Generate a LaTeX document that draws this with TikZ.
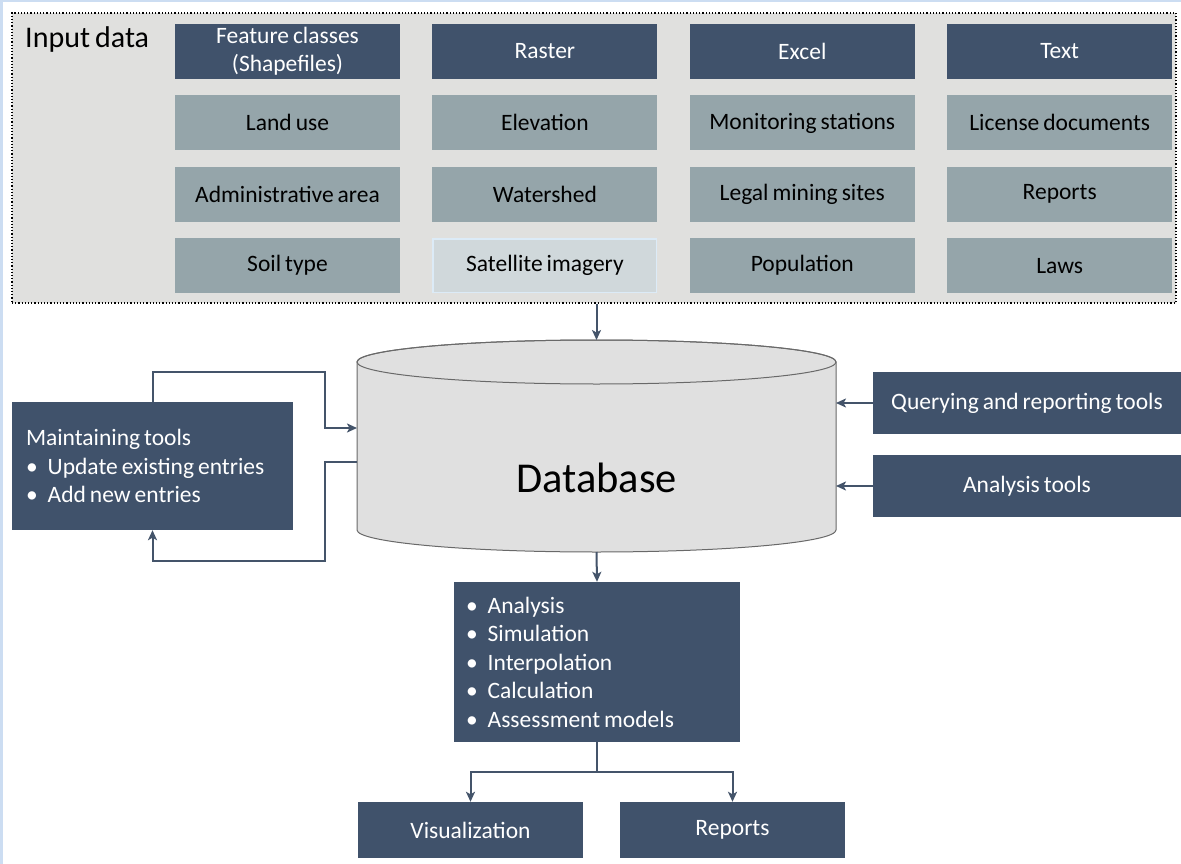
\documentclass[tikz,border=0pt]{standalone}
\usepackage{fontspec}
\setmainfont{Carlito}[WordSpace=0.75]
\usepackage{tikz}
\usetikzlibrary{positioning, arrows.meta}
\definecolor{darkcell}{RGB}{64,82,107}
\definecolor{graycell}{RGB}{149,165,170}
\definecolor{palecell}{RGB}{208,216,219}
\definecolor{paleedge}{RGB}{220,235,247}
\definecolor{inputbg}{RGB}{224,224,222}
\definecolor{dbfill}{RGB}{224,224,224}
\definecolor{dbedge}{RGB}{105,105,105}
\definecolor{linkcol}{RGB}{68,84,106}
\definecolor{framecol}{RGB}{204,221,242}
\tikzset{
cell/.style={minimum width=225pt, minimum height=55pt, inner sep=0pt, align=center, font=\fontsize{23.5}{28}\selectfont}, % every box of the input grid
typecell/.style={cell, fill=darkcell, text=white}, % first row: data types
datacell/.style={cell, fill=graycell, text=black}, % the data sets
toolbox/.style={fill=darkcell, text=white, inner sep=0pt, font=\fontsize{23.5}{28.5}\selectfont}, % dark boxes below
link/.style={->, >={Stealth[length=10pt, width=9pt, inset=2.5pt]}, draw=linkcol, line width=2pt}, % connectors
}
\newcommand{\itm}{\textbullet\hspace{10pt}}

\begin{document}
\begin{tikzpicture}[x=1pt, y=-1pt, node distance=16pt and 32pt]
    \useasboundingbox (0,0) rectangle (1181,864);
    \fill[white] (0,0) rectangle (1181,864);
    \draw[framecol, line width=5pt] (0,864) -- (0,0) -- (1181,0);

    % input data
    \node[draw=black, dotted, line width=1.2pt, fill=inputbg, minimum width=1164pt, minimum height=290pt, inner sep=0pt] (input) at (594,158) {};
    \node[anchor=base west, inner sep=0pt, font=\fontsize{30}{32}\selectfont] (title) at (25,48) {Input data};

    \node[typecell] (fc) at (287.5,51.5) {Feature classes\\(Shapefiles)};
    \node[typecell, right=of fc] (raster) {Raster};
    \node[typecell, right=of raster] (excel) {Excel};
    \node[typecell, right=of excel] (text) {Text};

    \node[datacell, below=of fc] (landuse) {Land use};
    \node[datacell, below=of raster] (elev) {Elevation};
    \node[datacell, below=of excel] (monitor) {Monitoring stations};
    \node[datacell, below=of text] (license) {License documents};

    \node[datacell, below=of landuse] (admin) {Administrative area};
    \node[datacell, below=of elev] (watershed) {Watershed};
    \node[datacell, below=of monitor] (mining) {Legal mining sites};
    \node[datacell, below=of license] (reports) {Reports};

    \node[datacell, below=of admin] (soil) {Soil type};
    \node[cell, fill=palecell, draw=paleedge, line width=1.5pt, minimum width=223.5pt, minimum height=53.5pt, below=of watershed] (sat) {Satellite imagery};
    \node[datacell, below=of mining] (popul) {Population};
    \node[datacell, below=of reports] (laws) {Laws};

    % database
    \draw[dbedge, line width=1pt, fill=dbfill] (357,362) -- (357,530) arc (180:360:239.5pt and 22pt) -- (836,362) arc (0:180:239.5pt and 22pt) -- cycle;
    \draw[dbedge, line width=1pt] (596.5,362) ellipse [x radius=239.5pt, y radius=22pt];
    \node[font=\fontsize{42.5}{46}\selectfont] (db) at (596.5,478) {Database};
    \coordinate (dbtop) at (596.5,340);
    \coordinate (dbbot) at (596.5,552);
    \coordinate (dbin) at (357,428);
    \coordinate (dbout) at (357,462);
    \coordinate (dbright) at (836,446);

    % tools
    \node[toolbox, minimum width=281pt, minimum height=128pt, text width=253pt, align=left] (maintain) at (152.5,466) {\spaceskip=0pt Maintaining tools\\\itm Update existing entries\\\itm Add new entries};
    \node[toolbox, minimum width=308pt, minimum height=62pt, align=center] (query) at (1027,403) {Querying and reporting tools};
    \node[toolbox, minimum width=308pt, minimum height=62pt, align=center] (analysis) at (1027,486) {Analysis tools};
    \node[toolbox, minimum width=286pt, minimum height=160pt, text width=262pt, align=left] (methods) at (597,662) {\spaceskip=0pt \itm Analysis\\\itm Simulation\\\itm Interpolation\\\itm Calculation\\\itm Assessment models};
    \node[toolbox, minimum width=225pt, minimum height=56pt, align=center] (vis) at (470.5,830) {Visualization};
    \node[toolbox, minimum width=225pt, minimum height=56pt, align=center] (out) at (732.5,830) {Reports};

    \coordinate (loopa) at (325,372);
    \coordinate (loopb) at (325,561);

    \draw[link] (input.south -| dbtop) -- (dbtop);
    \draw[link] (maintain.north) |- (loopa) |- (dbin);
    \draw[link] (dbout) -| (loopb) -| (maintain.south);
    \draw[link] (query.west) -- (query.west -| dbright);
    \draw[link] (analysis.west) -- (analysis.west -| dbright);
    \draw[link] (dbbot) -- (methods.north);
    \draw[link] (methods.south) -- ++(0,30) -| (vis.north);
    \draw[link] (methods.south) -- ++(0,30) -| (out.north);
\end{tikzpicture}
\end{document}
